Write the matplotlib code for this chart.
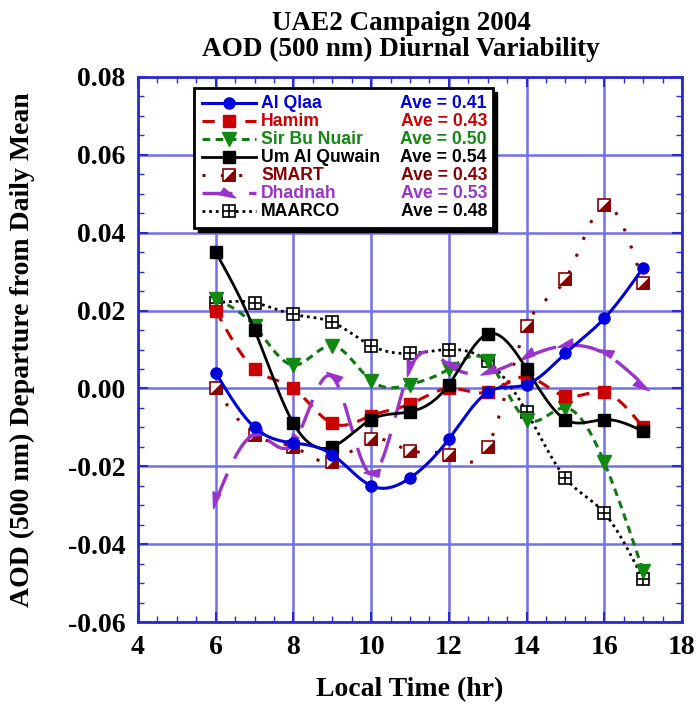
import numpy as np
import matplotlib
matplotlib.use("Agg")
import matplotlib.pyplot as plt
from matplotlib.path import Path
from matplotlib.markers import MarkerStyle
from matplotlib.transforms import Affine2D
from matplotlib.patches import Rectangle
from matplotlib.ticker import MultipleLocator

# ---------------- data ----------------
hours = [6, 7, 8, 9, 10, 11, 12, 13, 14, 15, 16, 17]
al_qlaa = [0.004, -0.010, -0.014, -0.017, -0.025, -0.023, -0.013, -0.001, 0.001, 0.009, 0.018, 0.031]
hamim = [0.020, 0.005, 0.000, -0.009, -0.007, -0.004, 0.000, -0.001, 0.003, -0.002, -0.001, -0.010]
sir_bu_nuair = [0.023, 0.016, 0.006, 0.011, 0.002, 0.001, 0.005, 0.007, -0.008, -0.005, -0.019, -0.047]
um_al_quwain = [0.035, 0.015, -0.009, -0.015, -0.008, -0.006, 0.001, 0.014, 0.005, -0.008, -0.008, -0.011]
smart = [0.000, -0.012, -0.015, -0.019, -0.013, -0.016, -0.017, -0.015, 0.016, 0.028, 0.047, 0.027]
dhadnah = [-0.029, -0.012, -0.014, 0.003, -0.022, 0.005, 0.006, 0.004, 0.008, 0.011, 0.009, 0.001]
maarco = [0.022, 0.022, 0.019, 0.017, 0.011, 0.009, 0.010, 0.007, -0.006, -0.023, -0.032, -0.049]

site_names = ["Al Qlaa", "Hamim", "Sir Bu Nuair", "Um Al Quwain", "SMART", "Dhadnah", "MAARCO"]
site_aves = ["0.41", "0.43", "0.50", "0.54", "0.43", "0.53", "0.48"]
series = [al_qlaa, hamim, sir_bu_nuair, um_al_quwain, smart, dhadnah, maarco]

x_ticks = [4, 6, 8, 10, 12, 14, 16, 18]
y_ticks = [-0.06, -0.04, -0.02, 0.00, 0.02, 0.04, 0.06, 0.08]

# ---------------- styles ----------------
BLUE = "#0000dd"
RED = "#cc0000"
GREEN = "#117711"
GREEN_T = "#118811"
MAROON = "#880000"
PURPLE = "#9933cc"
BLACK = "#000000"
GRIDC = "#7070e8"
SPINEC = "#2a2ad0"

text_colors = [BLUE, RED, GREEN_T, BLACK, MAROON, PURPLE, BLACK]

serif = ["Liberation Serif", "DejaVu Serif"]
sans = ["Liberation Sans", "DejaVu Sans"]
BIG = 20


def spline(x, y, n=600):
    x = np.asarray(x, float)
    y = np.asarray(y, float)
    N = len(x)
    h = np.diff(x)
    A = np.zeros((N, N))
    b = np.zeros(N)
    A[0, 0] = 1
    A[-1, -1] = 1
    for i in range(1, N - 1):
        A[i, i - 1] = h[i - 1]
        A[i, i] = 2 * (h[i - 1] + h[i])
        A[i, i + 1] = h[i]
        b[i] = 3 * ((y[i + 1] - y[i]) / h[i] - (y[i] - y[i - 1]) / h[i - 1])
    c = np.linalg.solve(A, b)
    bc = (y[1:] - y[:-1]) / h - h * (2 * c[:-1] + c[1:]) / 3
    d = (c[1:] - c[:-1]) / (3 * h)
    xs = np.linspace(x[0], x[-1], n)
    idx = np.clip(np.searchsorted(x, xs) - 1, 0, N - 2)
    dx = xs - x[idx]
    ys = y[idx] + bc[idx] * dx + c[idx] * dx ** 2 + d[idx] * dx ** 3
    deriv = np.append(bc, bc[-1] + 2 * c[-2] * h[-1] + 3 * d[-1] * h[-1] ** 2)
    return xs, ys, deriv


fig = plt.figure(figsize=(6.99, 7.05), dpi=100)
L, R, T, B = 138, 682, 77, 622
W, H = 699, 705
ax = fig.add_axes([L / W, 1 - B / H, (R - L) / W, (B - T) / H])
ax.set_xlim(4, 18)
ax.set_ylim(-0.06, 0.08)


def fx(px):
    return (px - L) / (R - L)


def fy(py):
    return (B - py) / (B - T)


# grid
ax.set_axisbelow(True)
ax.grid(True, which="major", color=GRIDC, lw=1.8)
for s in ax.spines.values():
    s.set_color(SPINEC)
    s.set_linewidth(2)
ax.xaxis.set_minor_locator(MultipleLocator(0.5))
ax.yaxis.set_minor_locator(MultipleLocator(0.005))
ax.set_xticks(x_ticks)
ax.set_yticks(y_ticks)
ax.set_xticklabels([str(v) for v in x_ticks])
ax.set_yticklabels(["%.2f" % v for v in y_ticks])
ax.tick_params(which="both", direction="in", top=True, right=True, color=SPINEC)
ax.tick_params(which="major", length=7, width=1.5, pad=9)
ax.tick_params(which="minor", length=4, width=1)
for lab in ax.get_xticklabels() + ax.get_yticklabels():
    lab.set_fontfamily(serif)
    lab.set_fontweight("bold")
    lab.set_fontsize(BIG)

ax.set_xlabel("Local Time (hr)", fontfamily=serif, fontweight="bold", fontsize=BIG)
ax.set_ylabel("AOD (500 nm) Departure from Daily Mean", fontfamily=serif, fontweight="bold",
              fontsize=BIG)
ax.xaxis.set_label_coords(fx(0.5 * (L + R)), fy(690))
ax.yaxis.set_label_coords(fx(22), 0.5)
ax.xaxis.label.set_va("center")
ax.yaxis.label.set_va("center")
fig.text(401 / W, 1 - 23 / H, "UAE2 Campaign 2004", ha="center", va="center",
         fontfamily=serif, fontweight="bold", fontsize=19.5)
fig.text(401 / W, 1 - 49 / H, "AOD (500 nm) Diurnal Variability", ha="center", va="center",
         fontfamily=serif, fontweight="bold", fontsize=19.5)

# custom markers
half_sq = Path([(-1, -1), (1, -1), (1, 1), (-1, -1)], [Path.MOVETO, Path.LINETO, Path.LINETO, Path.CLOSEPOLY])
arrow = Path([(1, 0), (-1, 0.15), (-1, -0.9), (1, 0)], [Path.MOVETO, Path.LINETO, Path.LINETO, Path.CLOSEPOLY])

styles = [
    dict(color=BLUE, ls="-", lw=2.2),
    dict(color=RED, ls=(0, (4, 3)), lw=2.2),
    dict(color=GREEN, ls=(0, (2.5, 1.8)), lw=2.2),
    dict(color=BLACK, ls="-", lw=2.0),
    dict(color=MAROON, ls=(0, (1, 5)), lw=2.2),
    dict(color=PURPLE, ls=(0, (9, 5)), lw=2.4),
    dict(color=BLACK, ls=(0, (1, 1.4)), lw=2.0),
]


def draw_markers(i, xs, ys, zorder, transform=None, angles=None):
    kw = dict(ls="none", zorder=zorder, clip_on=False)
    if transform is not None:
        kw["transform"] = transform
    if i == 0:
        ax.plot(xs, ys, marker="o", ms=8, mfc=BLUE, mec=BLUE, **kw)
    elif i == 1:
        ax.plot(xs, ys, marker="s", ms=9, mfc=RED, mec=RED, **kw)
    elif i == 2:
        ax.plot(xs, ys, marker="v", ms=9.5, mfc=GREEN_T, mec=GREEN_T, **kw)
    elif i == 3:
        ax.plot(xs, ys, marker="s", ms=9, mfc=BLACK, mec=BLACK, **kw)
    elif i == 4:
        ax.plot(xs, ys, marker="s", ms=8, mfc="white", mec=MAROON, mew=1.2, **kw)
        ax.plot(xs, ys, marker=half_sq, ms=8, mfc=MAROON, mec=MAROON, mew=0.5, **kw)
    elif i == 5:
        for k, (xx, yy) in enumerate(zip(xs, ys)):
            a = angles[k] if angles is not None else -30
            m = MarkerStyle(arrow, transform=Affine2D().rotate_deg(a))
            ax.plot([xx], [yy], marker=m, ms=11, mfc=PURPLE, mec=PURPLE, **kw)
    elif i == 6:
        ax.plot(xs, ys, marker="s", ms=9, mfc="white", mec=BLACK, mew=1.2, **kw)
        ax.plot(xs, ys, marker="+", ms=9, mec=BLACK, mew=1.2, **kw)


# scale (px per data unit) for arrow orientation
sx = (R - L) / 14.0
sy = (B - T) / 0.14

order = [6, 4, 2, 1, 5, 3, 0]
for z, i in enumerate(order):
    xs, ys, der = spline(hours, series[i])
    ax.plot(xs, ys, zorder=3 + z, **styles[i])
    angles = None
    if i == 5:
        angles = []
        n = len(hours)
        for k in range(n):
            if k < n - 1:
                ang = np.degrees(np.arctan2(-der[k] * sy, -1 * sx))
            else:
                ang = np.degrees(np.arctan2(der[k] * sy, 1 * sx))
            angles.append(ang)
    draw_markers(i, hours, series[i], 3.5 + z, angles=angles)

# ---------------- legend (manual) ----------------
bx0, by0, bx1, by1 = 194, 88, 493, 228
sh = 4
ax.add_patch(Rectangle((fx(bx0 + sh), fy(by1 + sh)), fx(bx1 + sh) - fx(bx0 + sh), fy(by0 + sh) - fy(by1 + sh),
                       transform=ax.transAxes, facecolor="black", edgecolor="black", zorder=20, clip_on=False))
ax.add_patch(Rectangle((fx(bx0), fy(by1)), fx(bx1) - fx(bx0), fy(by0) - fy(by1),
                       transform=ax.transAxes, facecolor="white", edgecolor="black", lw=2, zorder=21, clip_on=False))

row_y = [103, 121, 139, 157, 175, 193, 211]
hx0, hx1 = 202, 256
for i in range(7):
    yy = fy(row_y[i])
    st = dict(styles[i])
    ax.plot([fx(hx0), fx(hx1)], [yy, yy], transform=ax.transAxes, zorder=22, clip_on=False, **st)
    draw_markers(i, [fx((hx0 + hx1) / 2)], [yy], 23, transform=ax.transAxes,
                 angles=[-35] if i == 5 else None)
    ax.text(fx(261), yy, site_names[i], transform=ax.transAxes, ha="left", va="center",
            fontfamily=sans, fontweight="bold", fontsize=12.7, color=text_colors[i], zorder=24)
    ax.text(fx(487), yy, "Ave = " + site_aves[i], transform=ax.transAxes, ha="right", va="center",
            fontfamily=sans, fontweight="bold", fontsize=12.7, color=text_colors[i], zorder=24)

fig.savefig("out.png", dpi=100)
